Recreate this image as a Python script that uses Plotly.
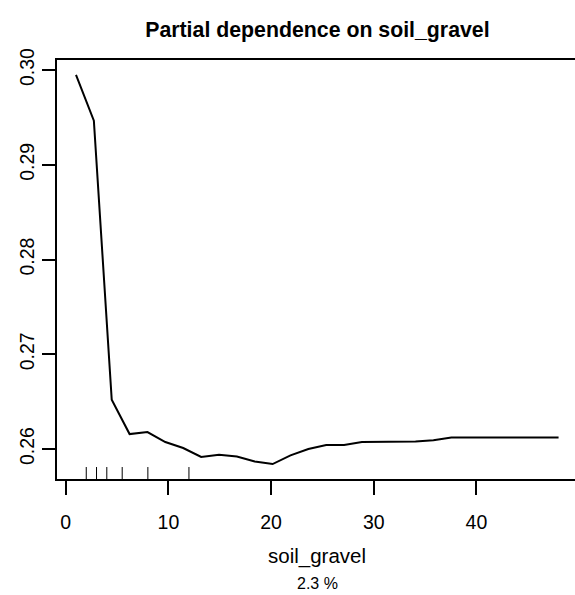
import plotly.graph_objects as go

# Partial dependence grid (soil_gravel) and predicted values
soil_gravel = [1.00, 2.74, 4.48, 6.22, 7.96, 9.70, 11.44, 13.19, 14.93, 16.67,
               18.41, 20.15, 21.89, 23.63, 25.37, 27.11, 28.85, 30.59, 32.33, 34.07,
               35.81, 37.56, 39.30, 41.04, 42.78, 44.52, 46.26, 48.00]
partial_dep = [0.29947, 0.29465, 0.26520, 0.26158, 0.26179, 0.26074, 0.26011, 0.25916, 0.25940, 0.25922,
               0.25869, 0.25842, 0.25933, 0.26000, 0.26042, 0.26042, 0.26074, 0.26075, 0.26077, 0.26079,
               0.26093, 0.26122, 0.26122, 0.26122, 0.26122, 0.26122, 0.26122, 0.26122]
# Deciles of the data (rug marks)
rug_deciles = [2, 3, 4, 5.5, 8, 12]

x_ticks = [0, 10, 20, 30, 40]
y_ticks = [0.26, 0.27, 0.28, 0.29, 0.30]
y_tick_labels = ["0.26", "0.27", "0.28", "0.29", "0.30"]

title_text = "Partial dependence on soil_gravel"
x_title = "soil_gravel"
sub_text = "2.3 %"

FONT = "Liberation Sans, Arial, Helvetica, sans-serif"

fig = go.Figure()
fig.add_trace(go.Scatter(x=soil_gravel, y=partial_dep, mode="lines",
                         line=dict(color="black", width=2), showlegend=False,
                         hoverinfo="skip"))

for d in rug_deciles:
    fig.add_shape(type="line", xref="x", yref="paper", x0=d, x1=d, y0=0, y1=0.0286,
                  line=dict(color="black", width=1))

fig.update_layout(
    width=575, height=595,
    margin=dict(l=57, r=0, t=60, b=116),
    paper_bgcolor="white", plot_bgcolor="white",
    font=dict(family=FONT, color="black", size=19.5),
    title=dict(text="<b>" + title_text + "</b>", x=0.552, xanchor="center",
               y=1 - 30 / 595, yanchor="middle", yref="container",
               font=dict(size=21.3, family=FONT, color="black")),
    xaxis=dict(range=[-0.85, 49.6], tickvals=x_ticks, ticktext=[str(v) for v in x_ticks],
               showgrid=False, zeroline=False, showline=True, mirror=True,
               linecolor="black", linewidth=2, ticks="outside", ticklen=14,
               tickwidth=1.5, tickcolor="black", tickfont=dict(size=19.5),
               ticklabelstandoff=11),
    yaxis=dict(range=[0.25684, 0.30105], tickvals=y_ticks, ticktext=y_tick_labels,
               showgrid=False, zeroline=False, showline=True, mirror=False,
               linecolor="black", linewidth=2, ticks="outside", ticklen=13,
               tickwidth=1.5, tickcolor="black", tickfont=dict(size=19.5),
               tickangle=-90, ticklabelstandoff=0),
    annotations=[
        dict(text=x_title, xref="paper", yref="paper", x=0.502, y=0,
             xanchor="center", yanchor="middle", yshift=-77, showarrow=False,
             font=dict(size=20.5, family=FONT, color="black")),
        dict(text=sub_text, xref="paper", yref="paper", x=0.502, y=0,
             xanchor="center", yanchor="middle", yshift=-104, showarrow=False,
             font=dict(size=16, family=FONT, color="black")),
    ],
)

fig.write_html("out.html", config={"displayModeBar": False},
               post_script="document.body.style.margin='0px';")
